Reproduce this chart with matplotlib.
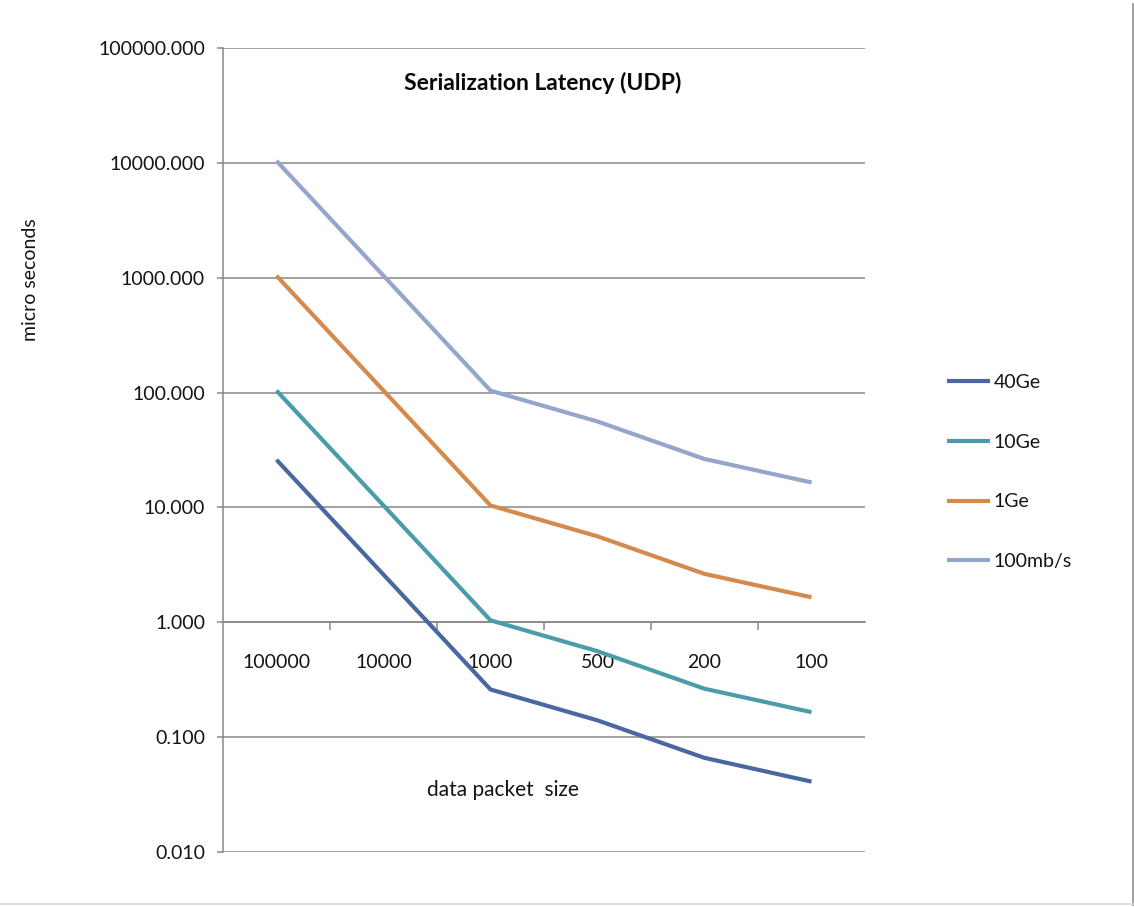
import matplotlib
matplotlib.use("Agg")
import matplotlib.pyplot as plt
from matplotlib.lines import Line2D
from matplotlib.ticker import FixedLocator, NullLocator, FuncFormatter

# Packet sizes (bytes) along the category axis
packet_sizes = ["100000", "10000", "1000", "500", "200", "100"]

# Serialization latency in microseconds for each link speed
lat_40ge = [26.0, 2.6, 0.26, 0.14, 0.066, 0.041]
lat_10ge = [104.0, 10.4, 1.04, 0.56, 0.264, 0.165]
lat_1ge = [1040.0, 104.0, 10.4, 5.6, 2.64, 1.65]
lat_100mb = [10400.0, 1040.0, 104.0, 56.0, 26.4, 16.5]

series_names = ["40Ge", "10Ge", "1Ge", "100mb/s"]
series_colors = ["#4a679f", "#4a9cab", "#d38a4c", "#95a6cd"]

plt.rcParams["font.family"] = ["Lato", "DejaVu Sans"]

W, H = 1134, 907
fig = plt.figure(figsize=(W / 100, H / 100), dpi=100)
fig.patch.set_facecolor("white")

left_px, right_px, top_px, bottom_px = 223, 865, 48, 852
ax = fig.add_axes([left_px / W, 1 - bottom_px / H,
                   (right_px - left_px) / W, (bottom_px - top_px) / H])

grid_col = "#878787"
text_col = "#141414"
x = list(range(len(packet_sizes)))
for vals, name, col in zip([lat_40ge, lat_10ge, lat_1ge, lat_100mb],
                           series_names, series_colors):
    ax.plot(x, vals, color=col, lw=3.0, label=name,
            solid_joinstyle="round", solid_capstyle="butt", zorder=3)

ax.set_yscale("log")
ax.set_ylim(0.01, 100000)
ax.set_xlim(-0.5, len(packet_sizes) - 0.5)

# y axis: decade gridlines with three-decimal labels
decades = [10.0 ** k for k in range(-2, 6)]
ax.yaxis.set_major_locator(FixedLocator(decades))
ax.yaxis.set_minor_locator(NullLocator())
ax.yaxis.set_major_formatter(FuncFormatter(lambda v, p: f"{v:.3f}"))
ax.grid(axis="y", color=grid_col, lw=1.1, zorder=1)
ax.tick_params(axis="y", which="major", length=4.3, width=1.1, color=grid_col,
               direction="out", pad=8.6, labelsize=14, labelcolor=text_col)

# x axis crosses at 1.0
ax.spines["bottom"].set_position(("data", 1.0))
ax.spines["bottom"].set_color(grid_col)
ax.spines["bottom"].set_linewidth(1.1)
ax.spines["left"].set_color(grid_col)
ax.spines["left"].set_linewidth(1.1)
ax.spines["top"].set_visible(False)
ax.spines["right"].set_visible(False)

ax.xaxis.set_major_locator(FixedLocator(x))
ax.set_xticklabels(packet_sizes)
ax.xaxis.set_minor_locator(FixedLocator([i + 0.5 for i in x[:-1]]))
ax.tick_params(axis="x", which="major", length=0, pad=23, labelsize=14,
               labelcolor=text_col)
ax.tick_params(axis="x", which="minor", length=6, width=1.1, color=grid_col,
               direction="out")

ax.set_facecolor("none")

fig.text(543 / W, 1 - 83 / H, "Serialization Latency (UDP)", ha="center",
         va="center", fontsize=16.5, fontweight="bold", color="#0a0a0a")
fig.text(30 / W, 1 - 280 / H, "micro seconds", rotation=90, ha="center",
         va="center", fontsize=14, color=text_col)
fig.text(503 / W, 1 - 790 / H, "data packet  size", ha="center",
         va="center", fontsize=15, color=text_col)

fig.legend(loc="center left", bbox_to_anchor=(947 / W, 1 - 472 / H),
           frameon=False, borderpad=0, borderaxespad=0, fontsize=14,
           handlelength=2.2, handletextpad=0.2, labelspacing=2.2,
           labelcolor=text_col)

# outer chart border
fig.add_artist(Line2D([1132.5 / W, 1132.5 / W], [1 - 905 / H, 1 - 4 / H],
                      color="#9a9a9a", lw=1.3))
fig.add_artist(Line2D([0, 1132.5 / W], [1 - 904 / H, 1 - 904 / H],
                      color="#d9d9d9", lw=1.3))

fig.savefig("out.png", dpi=100, facecolor="white")
